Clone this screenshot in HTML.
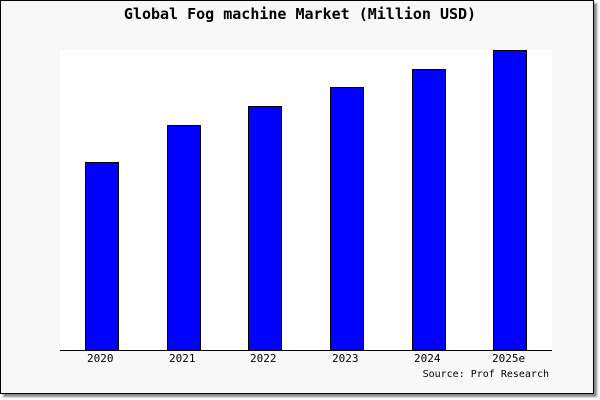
<!DOCTYPE html>
<html><head><style>
body{margin:0;width:600px;height:400px;background:#fff;position:relative;font-family:"DejaVu Sans Mono","Liberation Mono",monospace;overflow:hidden}
.frame{position:absolute;left:0;top:0;width:592px;height:392px;border:1px solid #000;background:#f8f8f8;box-shadow:3px 3px 2px #888}
.plot{position:absolute;left:60px;top:50px;width:492px;height:300px;background:#fff}
.axis{position:absolute;left:60px;top:350px;width:492px;height:1px;background:#000}
.bar{position:absolute;width:32px;background:#0000ff;border:1px solid #000}
.t{position:absolute;font-size:11px;color:#000;white-space:nowrap}
.title{position:absolute;top:5px;left:0;width:600px;text-align:center;font-size:15px;font-weight:bold}
</style></head><body>
<div class="frame"></div>
<div class="title">Global Fog machine Market (Million USD)</div>
<div class="plot"></div>
<div class="bar" style="left:85px;top:162px;height:187px"></div>
<div class="bar" style="left:167px;top:125px;height:224px"></div>
<div class="bar" style="left:248px;top:106px;height:243px"></div>
<div class="bar" style="left:330px;top:87px;height:262px"></div>
<div class="bar" style="left:412px;top:69px;height:280px"></div>
<div class="bar" style="left:493px;top:50px;height:299px"></div>
<div class="axis"></div>
<div class="t" style="left:87px;top:352px">2020</div>
<div class="t" style="left:169px;top:352px">2021</div>
<div class="t" style="left:250px;top:352px">2022</div>
<div class="t" style="left:332px;top:352px">2023</div>
<div class="t" style="left:414px;top:352px">2024</div>
<div class="t" style="left:492px;top:352px">2025e</div>
<div class="t" style="right:51px;top:369px;font-size:10px">Source: Prof Research</div>
</body></html>
